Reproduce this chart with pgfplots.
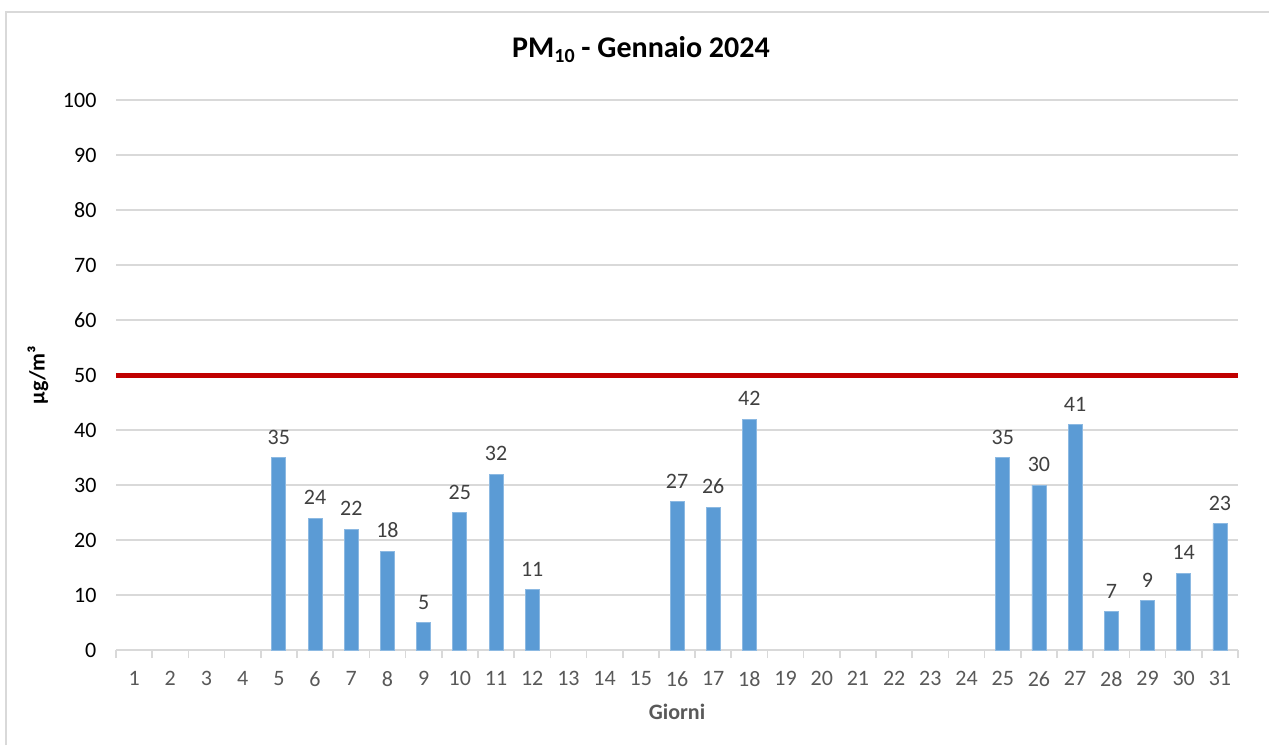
\documentclass[border=0pt]{standalone}
\usepackage{pgfplots}
\pgfplotsset{compat=1.18}
\usepackage{fontspec}
\setmainfont{Carlito}
\definecolor{barblue}{HTML}{5B9BD5}
\definecolor{limred}{HTML}{C00000}
\definecolor{gridgray}{HTML}{D9D9D9}
\definecolor{txtgray}{HTML}{595959}
\definecolor{lblgray}{HTML}{404040}
\begin{document}
\begin{tikzpicture}
\useasboundingbox (0,0) rectangle (634.5pt,372.5pt);
\fill[white] (0,0) rectangle (634.5pt,372.5pt);
\draw[gridgray, line width=0.8pt] (3pt,0) -- (3pt,366.5pt) -- (640pt,366.5pt);
\node[font=\fontsize{15}{18}\selectfont\bfseries, text=black] at (320.5pt,347.5pt) {PM\raisebox{-0.35ex}{\fontsize{10}{12}\selectfont 10} - Gennaio 2024};
\begin{axis}[
  at={(58pt,47.5pt)}, anchor=south west,
  scale only axis, width=561pt, height=275pt,
  xmin=0.5, xmax=31.5, ymin=0, ymax=100,
  ytick={0,10,...,100},
  xtick={1,...,31},
  minor xtick={0.5,1.5,...,31.5},
  major x tick style={draw=none},
  minor x tick style={gridgray, line width=0.8pt},
  minor tick length=4pt,
  tick align=outside,
  ytick style={draw=none},
  axis x line*=bottom,
  axis y line*=left,
  y axis line style={draw=none},
  x axis line style={gridgray, line width=0.8pt, -},
  ymajorgrids,
  grid style={gridgray, line width=0.8pt},
  /pgf/number format/assume math mode=true,
  ticklabel style={font=\fontsize{11}{13}\selectfont, text=txtgray},
  yticklabel style={text=black, xshift=-2pt},
  xticklabel style={yshift=-3pt},
  xlabel={Giorni},
  xlabel style={font=\fontsize{11}{13}\selectfont\bfseries, text=txtgray, at={(axis description cs:0.5,0)}, anchor=center, yshift=-31pt},
  ylabel={µg/m³},
  ylabel style={font=\fontsize{11}{13}\selectfont\bfseries, text=black, at={(axis description cs:-0.0695,0.5)}, anchor=center},
  clip=false,
]
\addplot[ybar, bar width=7pt, fill=barblue, draw=barblue!70!white, line width=0.4pt,
  nodes near coords, nodes near coords style={font=\fontsize{11}{13}\selectfont, text=lblgray, yshift=3pt}]
  coordinates {(5,35) (6,24) (7,22) (8,18) (9,5) (10,25) (11,32) (12,11)
  (16,27) (17,26) (18,42) (25,35) (26,30) (27,41) (28,7) (29,9) (30,14) (31,23)};
\addplot[limred, line width=2.5pt, no markers] coordinates {(0.5,50) (31.5,50)};
\end{axis}
\end{tikzpicture}
\end{document}
